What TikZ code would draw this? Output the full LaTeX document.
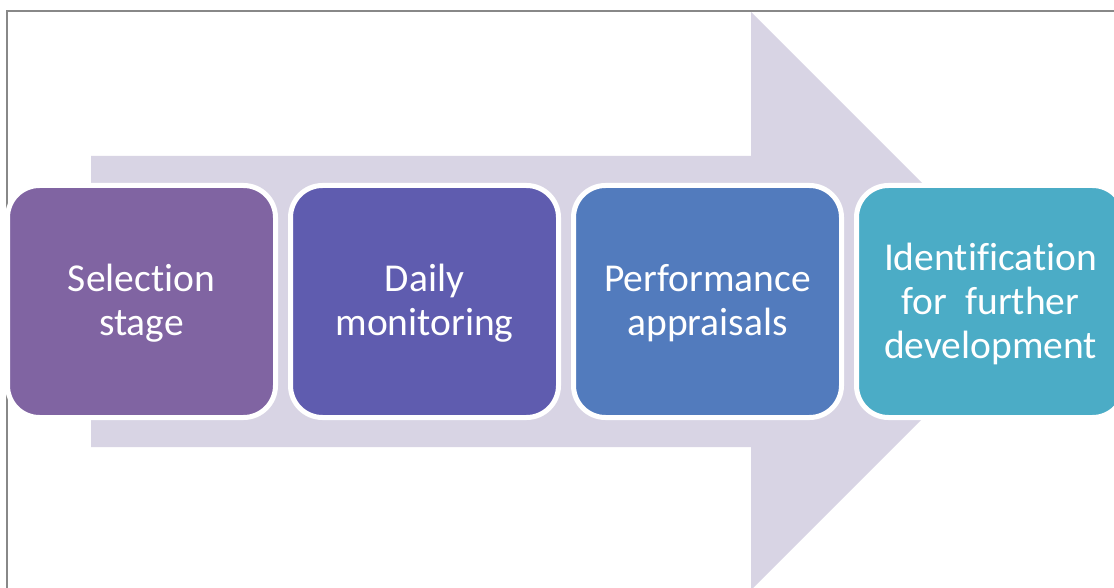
\documentclass[tikz,border=0pt]{standalone}
\usepackage{fontspec}
\setmainfont[Ligatures=NoCommon]{Carlito}
\definecolor{arrowc}{HTML}{D8D4E4}
\definecolor{c1}{HTML}{8064A2}
\definecolor{c2}{HTML}{5F5CAF}
\definecolor{c3}{HTML}{527BBD}
\definecolor{c4}{HTML}{4BACC6}
\definecolor{framec}{HTML}{888888}
\tikzset{
  stagebox/.style={draw=white, line width=5pt, rounded corners=32pt,
    minimum width=268pt, minimum height=232pt, inner sep=0pt},
  stagetext/.style={text=white, align=center, inner sep=0pt,
    font=\fontsize{39.5}{44}\selectfont},
}
\begin{document}
\begin{tikzpicture}[x=1pt,y=-1pt]
\useasboundingbox (0,0) rectangle (1114,588);
\clip (0,0) rectangle (1114,588);
\fill[white] (0,0) rectangle (1114,588);
\draw[framec, line width=2pt] (7,11) rectangle (1200,700);
\fill[arrowc] (91,156) -- (751,156) -- (751,12) -- (1040,301) -- (751,590)
  -- (751,447) -- (91,447) -- cycle;
\node[stagebox, fill=c1] (s1) at (141.5,301.5) {};
\node[stagebox, fill=c2] (s2) at (424.5,301.5) {};
\node[stagebox, fill=c3] (s3) at (707.5,301.5) {};
\node[stagebox, fill=c4] (s4) at (990.5,301.5) {};
\node[stagetext] (t1) at (141.5,303.5) {Selection\\stage};
\node[stagetext] (t2) at (424.5,303.5) {Daily\\monitoring};
\node[stagetext] (t3) at (707.5,303.5) {Performance\\appraisals};
\node[stagetext] (t4) at (990.5,303.5) {Identification\\for\ \ further\\development};
\end{tikzpicture}
\end{document}
